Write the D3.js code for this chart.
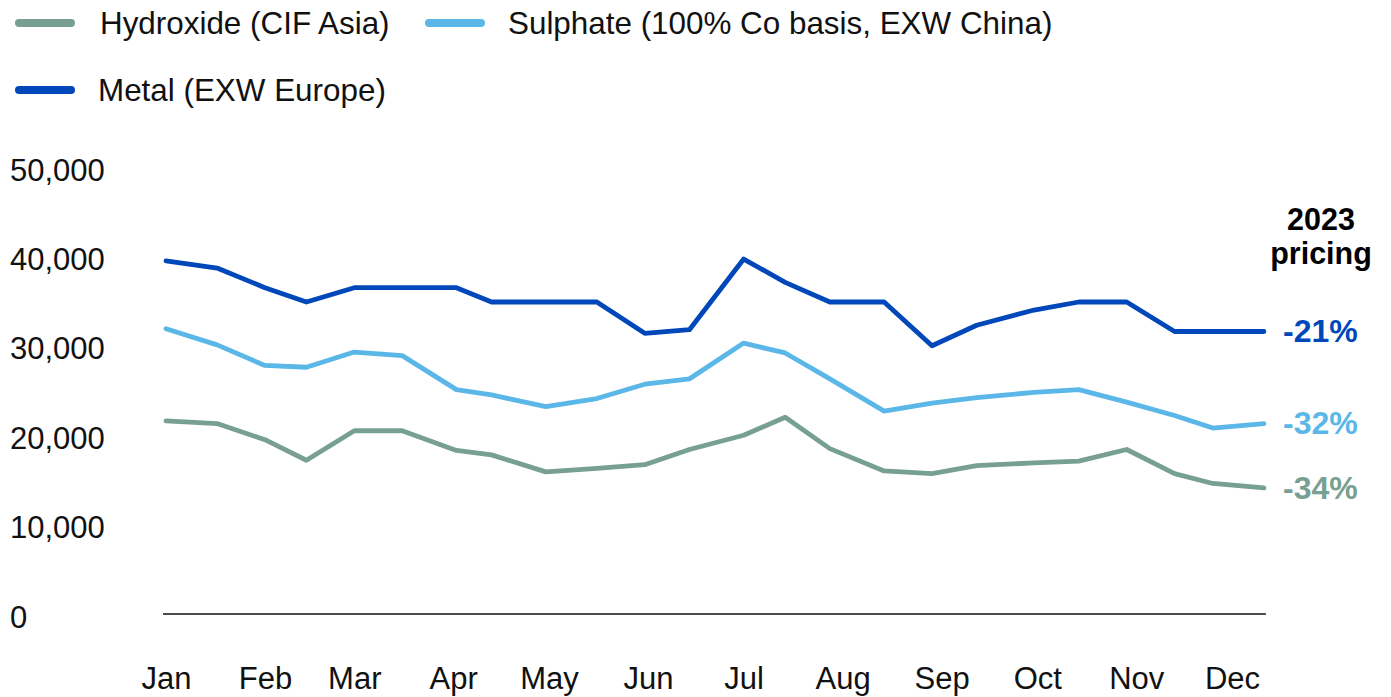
<!DOCTYPE html>
<html>
<head>
<meta charset="utf-8">
<script src="https://cdn.jsdelivr.net/npm/d3@7"></script>
<style>
  html, body { margin: 0; background: #fff; }
  svg { display: block; font-family: "Liberation Sans", Arial, Helvetica, sans-serif; }
</style>
</head>
<body>
<svg id="chart" width="1391" height="697"></svg>
<script>
'use strict';

// ─── Data ────────────────────────────────────────────────────────────────────
const dates = [
  '2023-01-01', '2023-01-17', '2023-02-01', '2023-02-14', '2023-03-01', '2023-03-16',
  '2023-04-02', '2023-04-13', '2023-04-30', '2023-05-16', '2023-05-31', '2023-06-14',
  '2023-07-01', '2023-07-14', '2023-07-28', '2023-08-14', '2023-08-29', '2023-09-12',
  '2023-09-30', '2023-10-14', '2023-10-29', '2023-11-13', '2023-11-25', '2023-12-11'
];
const hydroxide = [
  21600, 21300, 19500, 17200, 20500, 20500, 18300, 17800, 15900, 16300, 16700, 18400,
  20000, 22000, 18500, 16000, 15700, 16600, 16900, 17100, 18400, 15700, 14600, 14100
];
const sulphate = [
  31900, 30100, 27800, 27600, 29300, 28900, 25100, 24500, 23200, 24100, 25700, 26300,
  30300, 29200, 26300, 22700, 23600, 24200, 24800, 25100, 23700, 22200, 20800, 21300
];
const metal = [
  39500, 38700, 36500, 34900, 36500, 36500, 36500, 34900, 34900, 34900, 31400, 31800,
  39700, 37100, 34900, 34900, 30000, 32300, 34000, 34900, 34900, 31600, 31600, 31600
];
const seriesNames  = ['Hydroxide (CIF Asia)', 'Sulphate (100% Co basis, EXW China)', 'Metal (EXW Europe)'];
const seriesColors = ['#78a092', '#5ab7e7', '#0047ba'];
const changeLabels = ['-34%', '-32%', '-21%'];
const headLines = ['2023', 'pricing'];
const yTicks = [0, 10000, 20000, 30000, 40000, 50000];

// ─── Setup ───────────────────────────────────────────────────────────────────
const parse = d3.timeParse('%Y-%m-%d');
const dateValues = dates.map(parse);
const seriesValues = [hydroxide, sulphate, metal];

const series = seriesNames.map((name, i) => ({
  name,
  color: seriesColors[i],
  change: changeLabels[i],
  points: dateValues.map((d, j) => ({ date: d, value: seriesValues[i][j] }))
}));

const svg = d3.select('#chart');
const FS = 31;

const x = d3.scaleTime()
  .domain([parse('2023-01-01'), parse('2023-12-01')])
  .range([166, 1232]);
const y = d3.scaleLinear().domain([0, 50000]).range([614, 167]);

// ─── Y labels ────────────────────────────────────────────────────────────────
svg.append('g').selectAll('text')
  .data(yTicks)
  .join('text')
  .attr('x', 10)
  .attr('y', d => y(d))
  .attr('dy', '0.44em')
  .attr('font-size', FS)
  .attr('fill', '#111')
  .text(d3.format(','));

// ─── Baseline ────────────────────────────────────────────────────────────────
svg.append('line')
  .attr('x1', x(dateValues[0]) - 3)
  .attr('x2', x(dateValues[dateValues.length - 1]) + 2)
  .attr('y1', y(0)).attr('y2', y(0))
  .attr('stroke', '#111')
  .attr('stroke-width', 1.5);

// ─── X axis (month labels) ───────────────────────────────────────────────────
const xAxis = svg.append('g')
  .attr('transform', `translate(0,${y(0)})`)
  .call(d3.axisBottom(x).ticks(d3.timeMonth.every(1)).tickFormat(d3.timeFormat('%b')).tickSize(0));
xAxis.select('.domain').remove();
xAxis.selectAll('text')
  .attr('y', 75)
  .attr('dy', 0)
  .attr('font-size', FS)
  .attr('font-family', '"Liberation Sans", Arial, sans-serif')
  .attr('fill', '#111');

// ─── Lines ───────────────────────────────────────────────────────────────────
const line = d3.line().x(d => x(d.date)).y(d => y(d.value));

svg.append('g').selectAll('path')
  .data(series)
  .join('path')
  .attr('d', d => line(d.points))
  .attr('fill', 'none')
  .attr('stroke', d => d.color)
  .attr('stroke-width', 4.8)
  .attr('stroke-linejoin', 'round')
  .attr('stroke-linecap', 'round');

// ─── End labels ──────────────────────────────────────────────────────────────
svg.append('g').selectAll('text')
  .data(series)
  .join('text')
  .attr('x', 1283)
  .attr('y', d => y(d.points[d.points.length - 1].value))
  .attr('dy', '0.33em')
  .attr('font-size', 32)
  .attr('font-weight', 'bold')
  .attr('fill', d => d.color)
  .text(d => d.change);

svg.append('g').selectAll('text')
  .data(headLines)
  .join('text')
  .attr('x', 1321)
  .attr('y', (d, i) => 230 + i * 34)
  .attr('text-anchor', 'middle')
  .attr('font-size', 30.5)
  .attr('font-weight', 'bold')
  .attr('fill', '#000')
  .text(d => d);

// ─── Legend ──────────────────────────────────────────────────────────────────
const legendPos = [
  { sx: 15, tx: 100, y: 23 },
  { sx: 425, tx: 508, y: 23 },
  { sx: 15, tx: 98, y: 90 }
];

const legend = svg.append('g').selectAll('g')
  .data(series)
  .join('g')
  .attr('transform', (d, i) => `translate(0,${legendPos[i].y})`);

legend.append('line')
  .attr('x1', (d, i) => legendPos[i].sx + 4)
  .attr('x2', (d, i) => legendPos[i].sx + 56)
  .attr('stroke', d => d.color)
  .attr('stroke-width', 8)
  .attr('stroke-linecap', 'round');

legend.append('text')
  .attr('x', (d, i) => legendPos[i].tx)
  .attr('dy', '0.36em')
  .attr('font-size', 31.4)
  .attr('fill', '#111')
  .text(d => d.name);
</script>
</body>
</html>
